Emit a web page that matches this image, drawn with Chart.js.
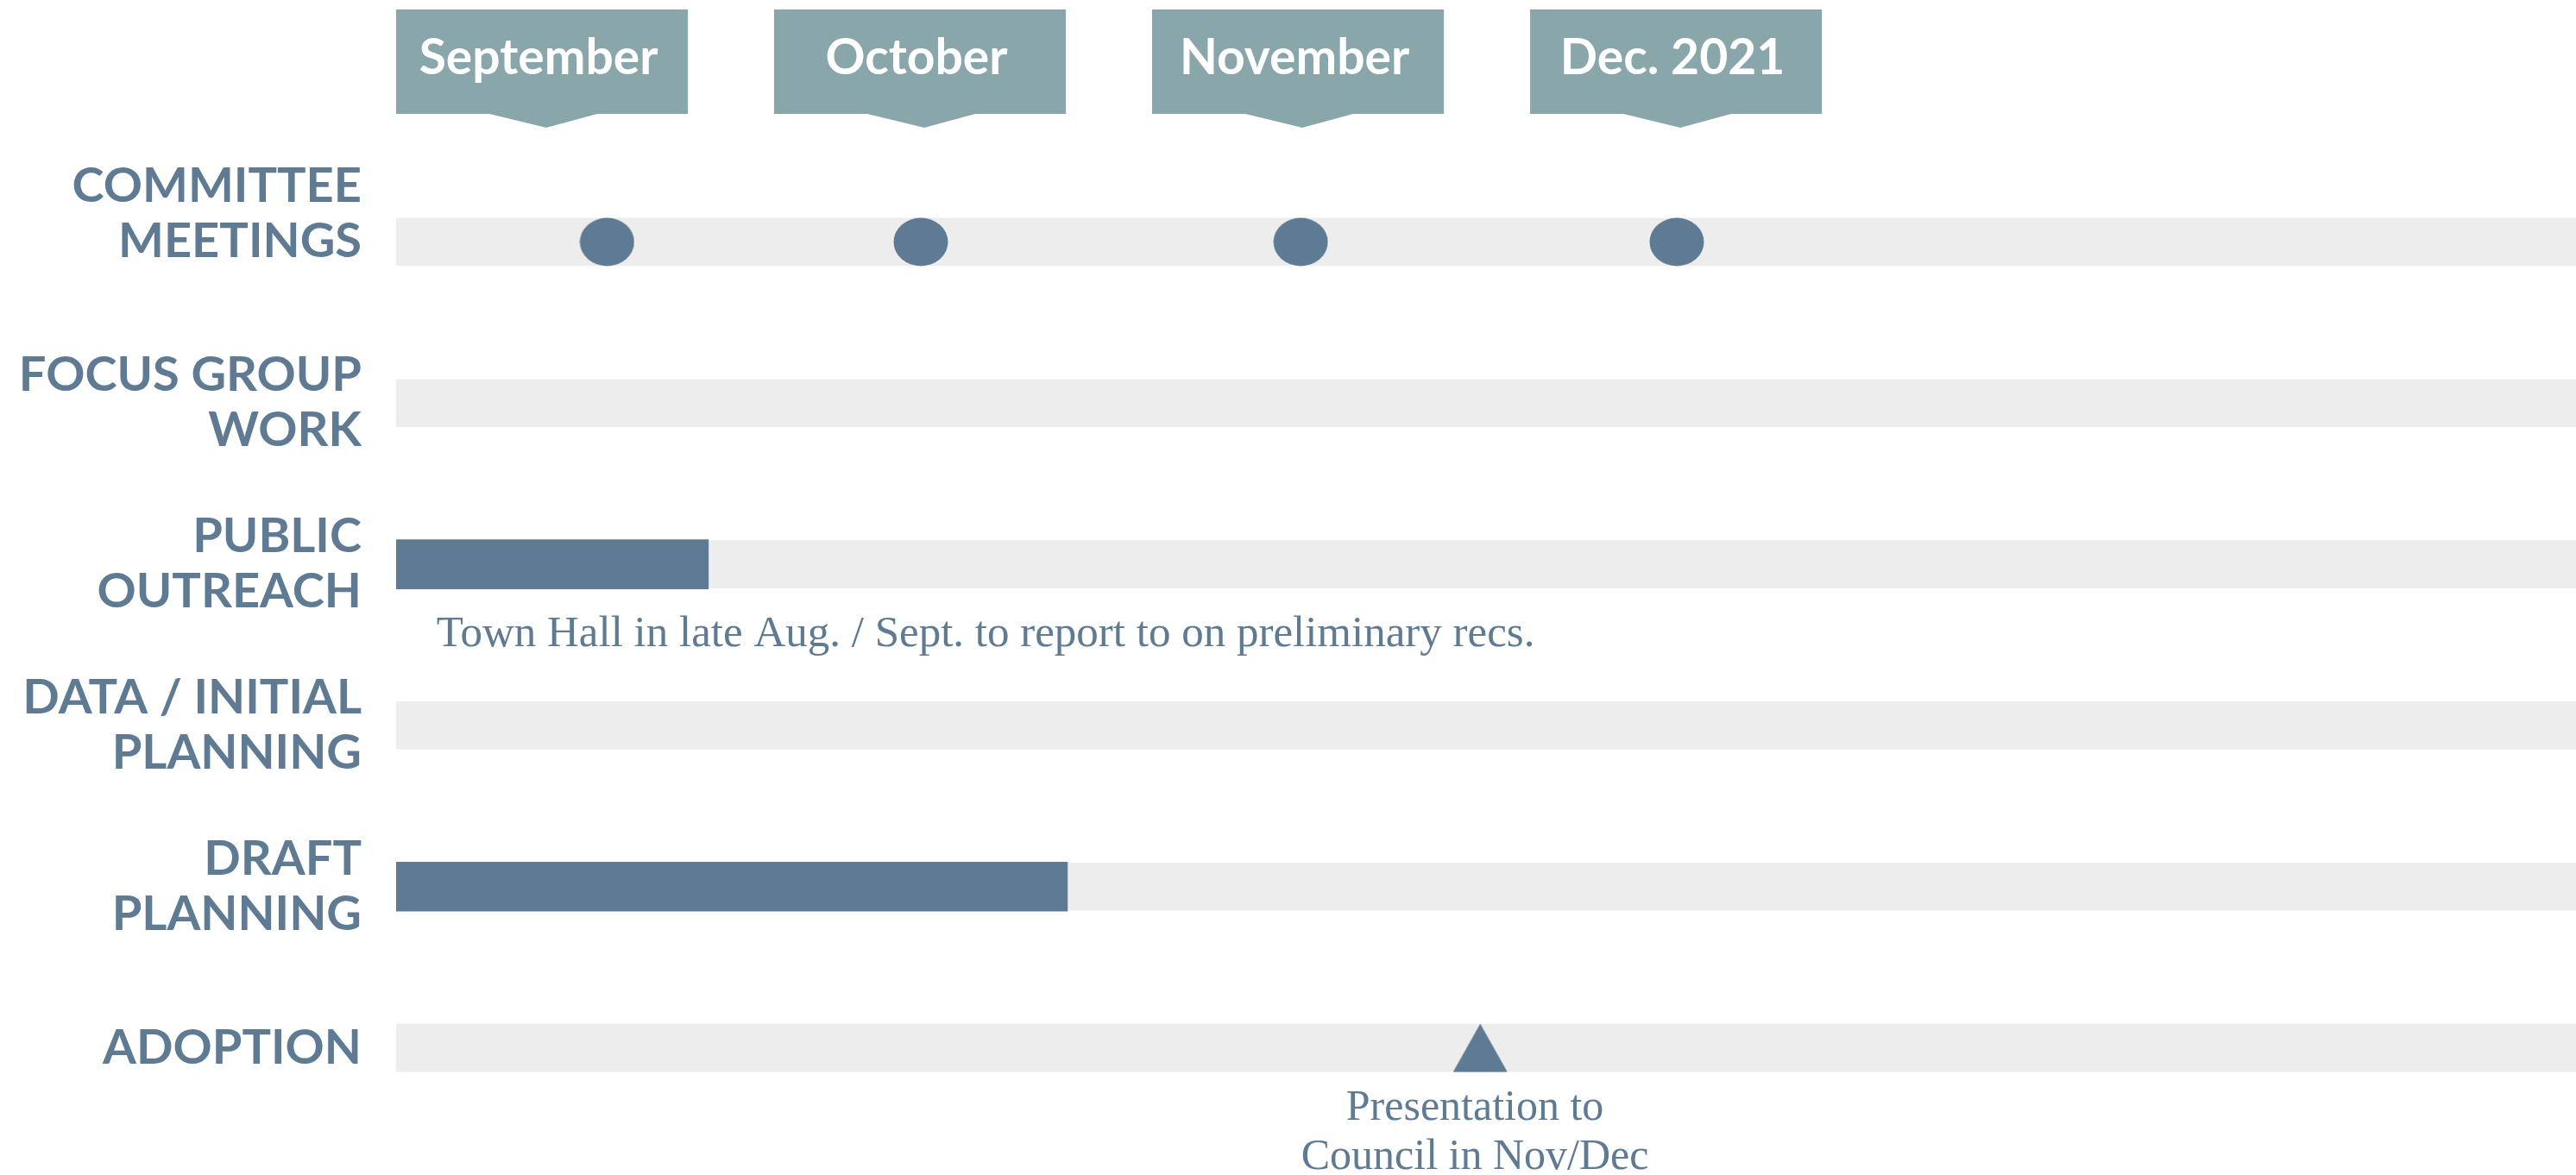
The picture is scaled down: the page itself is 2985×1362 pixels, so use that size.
<!DOCTYPE html>
<html>
<head>
<meta charset="utf-8">
<title>Timeline</title>
<script src="https://cdn.jsdelivr.net/npm/chart.js@4/dist/chart.umd.min.js"></script>
<style>
  html, body { margin: 0; padding: 0; background: #fff; }
  #wrap { width: 2985px; height: 1362px; position: relative; }
</style>
</head>
<body>
<div id="wrap"><canvas id="timeline"></canvas></div>
<script>
// rows, top to bottom (the empty line lifts the first label like the original)
const rowLabels = [
    ['COMMITTEE', 'MEETINGS', ''],
    ['FOCUS GROUP', 'WORK'],
    ['PUBLIC', 'OUTREACH'],
    ['DATA / INITIAL', 'PLANNING'],
    ['DRAFT', 'PLANNING'],
    ['ADOPTION']
];

// x axis is in months, 0 = start of September
const months = ['September', 'October', 'November', 'Dec. 2021'];
const monthStarts = [0, 1, 2, 3];
const timelineEnd = 5.767;

// committee meetings (row 0)
const meetingDates = [0.558, 1.388, 2.393, 3.388];
// progress bars: [row, start, end]
const progressRows = [2, 4];
const progressStart = [0, 0];
const progressEnd = [0.826, 1.776];
// adoption marker (row 5)
const adoptionDate = [2.868];

// notes under rows
const notes = [
    { lines: ['Town Hall in late Aug. / Sept. to report to on preliminary recs.'], x: 0.107, y: 2.506, align: 'left', size: 51 },
    { lines: ['Presentation to', 'Council in Nov/Dec'], x: 2.854, y: 5.445, align: 'center', size: 50 }
];

const BLUE = '#5f7b93';
const TRACK = '#ededed';
const BOX = '#89a7aa';

// marker images
function makeEllipse(w, h) {
    const c = document.createElement('canvas');
    c.width = w; c.height = h;
    const g = c.getContext('2d');
    g.fillStyle = BLUE;
    g.beginPath();
    g.ellipse(w / 2, h / 2, w / 2 - 0.5, h / 2 - 0.5, 0, 0, Math.PI * 2);
    g.fill();
    return c;
}
function makeTriangle(w, h) {
    const c = document.createElement('canvas');
    c.width = w; c.height = h;
    const g = c.getContext('2d');
    g.fillStyle = BLUE;
    g.beginPath();
    g.moveTo(w / 2, 0.5);
    g.lineTo(w - 0.5, h - 0.5);
    g.lineTo(0.5, h - 0.5);
    g.closePath();
    g.fill();
    return c;
}

// month flags + notes
const timelineDecor = {
    id: 'timelineDecor',
    afterDraw(chart) {
        const { ctx, chartArea, scales: { x, y } } = chart;
        ctx.save();
        const top = chartArea.top - 176;
        const bottom = chartArea.top - 55;
        const tip = chartArea.top - 39;
        months.forEach((m, i) => {
            const x0 = x.getPixelForValue(monthStarts[i]);
            const x1 = x.getPixelForValue(monthStarts[i] + 0.772);
            const cx = (x0 + x1) / 2;
            ctx.fillStyle = BOX;
            ctx.beginPath();
            ctx.moveTo(x0, top);
            ctx.lineTo(x1, top);
            ctx.lineTo(x1, bottom);
            ctx.lineTo(cx + 64, bottom);
            ctx.lineTo(cx + 5, tip);
            ctx.lineTo(cx - 61, bottom);
            ctx.lineTo(x0, bottom);
            ctx.closePath();
            ctx.fill();

            ctx.fillStyle = '#ffffff';
            ctx.font = 'bold 57px Lato';
            ctx.textAlign = 'center';
            ctx.textBaseline = 'alphabetic';
            ctx.fillText(m, cx - 4, chartArea.top - 101);
        });

        ctx.fillStyle = BLUE;
        ctx.textBaseline = 'alphabetic';
        notes.forEach(n => {
            ctx.font = n.size + 'px "Liberation Serif"';
            ctx.textAlign = n.align;
            const px = x.getPixelForValue(n.x);
            const py = y.getPixelForValue(n.y);
            n.lines.forEach((line, k) => ctx.fillText(line, px, py + k * 57));
        });
        ctx.restore();
    }
};

const trackData = rowLabels.map((_, i) => ({ x: [0, timelineEnd], y: i }));
const progressData = progressRows.map((r, i) => ({ x: [progressStart[i], progressEnd[i]], y: r }));

new Chart(document.getElementById('timeline'), {
    type: 'bar',
    data: {
        datasets: [
            {
                type: 'scatter',
                data: meetingDates.map(d => ({ x: d, y: 0 })),
                pointStyle: makeEllipse(64, 57),
                order: 0
            },
            {
                type: 'scatter',
                data: adoptionDate.map(d => ({ x: d, y: 5 })),
                pointStyle: makeTriangle(64, 57),
                order: 0
            },
            {
                data: progressData,
                backgroundColor: BLUE,
                barThickness: 57,
                grouped: false,
                order: 1
            },
            {
                data: trackData,
                backgroundColor: TRACK,
                barThickness: 55,
                grouped: false,
                order: 2
            }
        ]
    },
    options: {
        indexAxis: 'y',
        responsive: true,
        maintainAspectRatio: false,
        animation: false,
        events: [],
        layout: { autoPadding: false, padding: { top: 187, bottom: 54, left: 0, right: 0 } },
        plugins: {
            legend: { display: false },
            tooltip: { enabled: false }
        },
        scales: {
            x: {
                type: 'linear',
                min: 0,
                max: timelineEnd,
                offset: false,
                display: false
            },
            y: {
                type: 'linear',
                reverse: true,
                min: -0.5,
                max: 5.5,
                offset: false,
                grid: { display: false, drawTicks: false, offset: false },
                border: { display: false },
                afterBuildTicks: axis => {
                    axis.ticks = rowLabels.map((_, i) => ({ value: i }));
                },
                afterFit: scale => {
                    scale.width = 459;
                    scale.paddingTop = 0;
                    scale.paddingBottom = 0;
                },
                ticks: {
                    autoSkip: false,
                    padding: 40,
                    color: BLUE,
                    font: { family: 'Lato', weight: 'bold', size: 56, lineHeight: 1.143 },
                    callback: value => rowLabels[value]
                }
            }
        }
    },
    plugins: [timelineDecor]
});
</script>
</body>
</html>
